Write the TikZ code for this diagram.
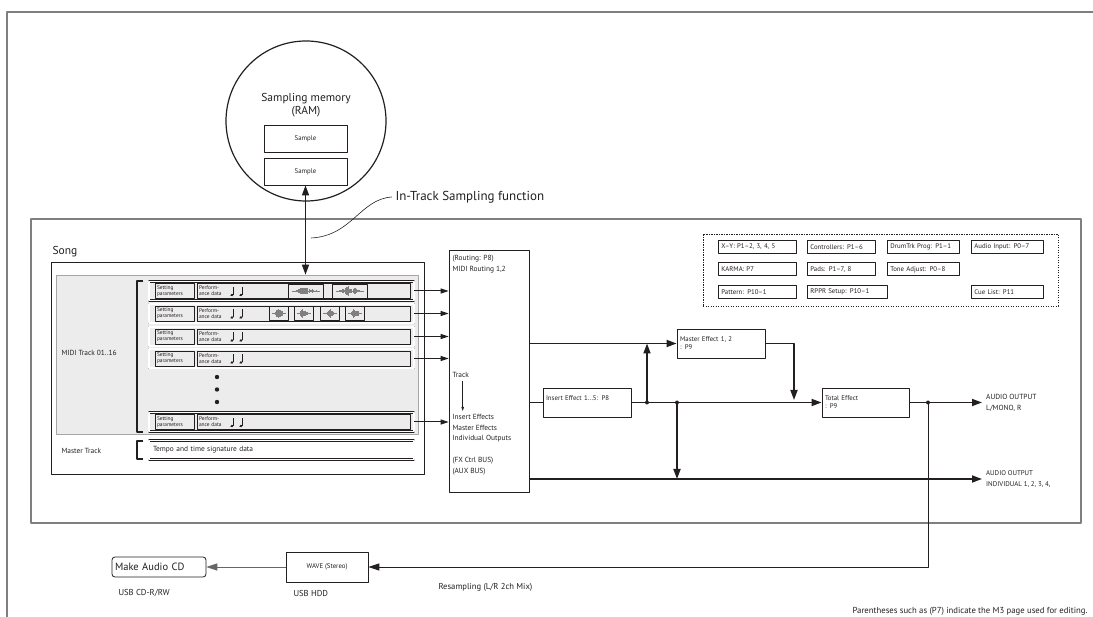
\documentclass[tikz,border=0pt]{standalone}
\usepackage{fontspec}
\setmainfont{PT Sans}
\usetikzlibrary{arrows.meta,calc,positioning}

\definecolor{ink}{HTML}{231F20}
\definecolor{rule}{HTML}{7F7F7F}
\definecolor{shade}{HTML}{ECECEC}

\tikzset{
  fa/.style={font=\fontsize{5.4}{5.9}\selectfont},
  fb/.style={font=\fontsize{6.8}{8}\selectfont},
  fc/.style={font=\fontsize{7.4}{10.6}\selectfont},
  fd/.style={font=\fontsize{8.6}{10}\selectfont},
  fe/.style={font=\fontsize{11.5}{13.5}\selectfont},
  box/.style={draw=ink,line width=0.8pt,inner sep=0pt},
  trk/.style={draw=ink,double=white,double distance=1.1pt,line width=0.55pt,
    minimum height=19,text width=257pt,inner sep=4pt,align=left},
  cell/.style={draw=ink,line width=0.6pt,minimum height=15,inner sep=2pt,align=left,fa},
  fx/.style={box,minimum height=29,text width=82pt,inner sep=3pt,align=left,fb},
  pg/.style={box,anchor=north west,minimum height=13,inner sep=3pt,align=left,fb},
  sig/.style={line width=1.7pt,-{Triangle[length=10pt,width=7pt]}},
  feed/.style={line width=1pt,-{Triangle[length=8pt,width=5pt]}},
  link/.style={line width=1.7pt},
  dot/.style={circle,fill=ink,inner sep=0pt,minimum size=4pt},
}

% quarter note: head at (#1,#2)
\newcommand{\qnote}[2]{%
  \fill[ink,rotate around={25:(#1,#2)}] (#1,#2) ellipse (1.8 and 1.2);
  \draw[ink,line width=0.5pt] ({#1+1.6},{#2-0.4}) -- ({#1+1.6},{#2-8});}
% recorded audio inside a sample slot
\newcommand{\wavy}[3]{%
  \draw[gray,line width=0.3pt] ({#1-#3},#2) -- ({#1+#3},#2);
  \foreach \k in {-12,...,12}{%
    \pgfmathsetmacro{\hh}{5*exp(-3*\k*\k/144)*(0.3+0.7*rnd)}
    \draw[gray,line width=0.35pt] ({#1+\k*#3/13},{#2-\hh}) -- ({#1+\k*#3/13},{#2+\hh});}}

\begin{document}
\begin{tikzpicture}[x=1pt,y=-1pt,line join=round,color=ink,text=ink]
  \pgfmathsetseed{7}
  \useasboundingbox (0,0) rectangle (1093,617);
  \draw[rule,line width=1.2pt] (1093,12) -- (7,12) -- (7,617);

  % sampling memory
  \node[circle,draw=ink,line width=1.2pt,minimum size=160,inner sep=0pt] (ram) at (306,121) {};
  \node[fe,align=center] (ramlbl) at (306,105) {Sampling memory\\(RAM)};
  \node[box,minimum width=83,minimum height=27,fb] (smpA) at (305.5,138.5) {Sample};
  \node[box,minimum width=83,minimum height=27,fb] (smpB) at (305.5,171.5) {Sample};

  % studio frame
  \node[draw=rule,line width=1.1pt,minimum width=1050,minimum height=304,inner sep=0pt] (studio) at (556,371) {};
  \node[anchor=west,font=\fontsize{13}{15}\selectfont] (itsf) at (392,197) {In-Track Sampling function};
  \coordinate (itsfend) at (311,238);
  \draw[line width=0.6pt] (itsf.west) .. controls (360,199) and (352,236) .. (itsfend);

  % song
  \node[anchor=west,fe] (songlbl) at (49,252) {Song};
  \node[box,minimum width=373,minimum height=212] (song) at (237.5,368) {};
  \node[fill=shade,draw=black!35,line width=0.6pt,minimum width=362,minimum height=159,inner sep=0pt] (midi) at (237,354.5) {};
  \node[anchor=west,fc] (midilbl) at (58,353) {MIDI Track 01..16};
  \node[anchor=west,fc] (mstlbl) at (58,451) {Master Track};
  \draw[line width=1.5pt] (143,281) -- (137,281) -- (137,432) -- (143,432);
  \draw[line width=1.5pt] (143,441) -- (137,441) -- (137,459) -- (143,459);

  \foreach \r/\y in {1/291,2/313.5,3/336.5,4/358.5,5/422}{
    \node[trk] (row\r) at (281.5,\y) {};
    \node[cell,text width=35pt] (set\r) at (174.5,\y) {Setting\\parameters};
    \node[cell,text width=209pt] (perf\r) at (303.5,\y) {Perform-\\ance data};
    \qnote{232}{\y+4}
    \qnote{241}{\y+4}
  }
  \node[trk,fc] (mrow) at (281.5,450) {Tempo and time signature data};

  % audio slots
  \foreach \cx in {305.5,349.5}{
    \node[draw=ink,line width=0.6pt,minimum width=35,minimum height=14,inner sep=0pt] at (\cx,291) {};
    \wavy{\cx}{291}{14}
  }
  \foreach \cx in {278.5,303.5,329.5,354.5}{
    \node[draw=ink,line width=0.6pt,minimum width=19,minimum height=14,inner sep=0pt] at (\cx,313.5) {};
    \wavy{\cx}{313.5}{7}
  }
  \foreach \dy in {377,389.5,402}
    \fill (217,\dy) circle (2.2);

  \draw[line width=1.2pt,{Triangle[length=10pt,width=7pt]}-{Triangle[length=10pt,width=7pt]}]
    (smpB.south) -- (smpB.south |- midi.north);

  % routing
  \node[box,minimum width=80,minimum height=242] (routing) at (489,371) {};
  \node[fc,anchor=north west,align=left] (rtlbl) at (449,252) {(Routing: P8)\\MIDI Routing 1,2};
  \node[fc,anchor=west] (tracklbl) at (449,375) {Track};
  \node[fc,anchor=north west,align=left] (fxlist) at (449,411) {Insert Effects\\Master Effects\\Individual Outputs};
  \node[fc,anchor=north west,align=left] (buslist) at (449,454) {(FX Ctrl BUS)\\(AUX BUS)};
  \draw[line width=0.6pt,-{Triangle[length=4pt,width=2.5pt]}] ([xshift=2pt]tracklbl.south) -- ([xshift=2pt]tracklbl.south |- fxlist.north);
  \foreach \r in {1,...,5}
    \draw[feed] (row\r.east) -- (row\r.east -| routing.west);

  % effects
  \node[fx] (insert) at (587,402.5) {Insert Effect 1...5: P8\\\mbox{}};
  \node[fx] (master) at (721,343.5) {Master Effect 1, 2\\: P9};
  \node[fx,text width=81pt] (total) at (865.5,402.5) {Total Effect\\: P9};
  \node[fb,anchor=west,align=left,inner sep=4pt,font=\fontsize{7.4}{11}\selectfont] (outmain) at (982,402.5) {AUDIO OUTPUT\\L/MONO, R};
  \node[fb,anchor=west,align=left,inner sep=4pt,font=\fontsize{6.9}{11}\selectfont] (outind) at (982,479) {AUDIO OUTPUT\\INDIVIDUAL 1, 2, 3, 4,};
  \coordinate (j1) at (647,402.5);
  \coordinate (j2) at (677,402.5);
  \coordinate (j3) at (928,402.5);
  \coordinate (mret) at (794,400);

  \draw[link] (routing.east |- insert.west) -- (insert.west);
  \draw[sig] (routing.east |- master.west) -- (master.west);
  \draw[sig] (insert.east) -- (total.west);
  \draw[sig] (j1) -- (j1 |- master.west);
  \draw[sig] (j2) -- (j2 |- outind.west);
  \draw[sig] (master.east) -| (mret);
  \draw[sig] (total.east) -- (outmain.west);
  \draw[sig] (routing.east |- outind.west) -- (outind.west);
  \foreach \j in {j1,j2,j3}
    \node[dot] at (\j) {};

  % edit pages
  \node[draw=ink,line width=0.8pt,dash pattern=on 1.2pt off 1.3pt,minimum width=355,minimum height=72,inner sep=0pt] (pages) at (880.5,270) {};
  \node[pg,text width=72pt] (xy) at (718,240) {X--Y: P1--2, 3, 4, 5};
  \node[pg,text width=62pt] (ctl) at (807,240) {Controllers: P1--6};
  \node[pg,text width=66pt] (drum) at (887,240) {DrumTrk Prog: P1--1};
  \node[pg,text width=66pt] (ain) at (971,240) {Audio Input: P0--7};
  \node[pg,text width=72pt] (karma) at (718,262.5) {KARMA: P7};
  \node[pg,text width=62pt] (pads) at (807,262.5) {Pads: P1--7, 8};
  \node[pg,text width=66pt] (tone) at (887,262.5) {Tone Adjust: P0--8};
  \node[pg,text width=72pt] (pat) at (718,285) {Pattern: P10--1};
  \node[pg,text width=74pt] (rppr) at (807,285) {RPPR Setup: P10--1};
  \node[pg,text width=66pt] (cue) at (971,285) {Cue List: P11};

  % resampling
  \node[box,minimum width=82,minimum height=30,fb] (wave) at (327,567) {WAVE (Stereo)};
  \node[box,rounded corners=3pt,minimum width=94,minimum height=20,text width=88pt,inner sep=3pt,align=left,font=\fontsize{10.5}{12}\selectfont] (cd) at (159,567) {Make Audio CD};
  \node[anchor=west,fd] (hddlbl) at (290,593) {USB HDD};
  \node[anchor=west,fd] (cdlbl) at (115,593) {USB CD-R/RW};
  \node[anchor=west,fd] (rsplbl) at (435,587) {Resampling (L/R 2ch Mix)};
  \draw[line width=1pt,-{Triangle[length=11pt,width=7pt]}] (j3) |- (wave.east);
  \draw[black!60,line width=1pt,-{Triangle[length=11pt,width=7pt]}] (wave.west) -- (cd.east);

  \node[anchor=east,font=\fontsize{8.7}{10}\selectfont] (note) at (1091,611) {Parentheses such as (P7) indicate the M3 page used for editing.};
\end{tikzpicture}
\end{document}
